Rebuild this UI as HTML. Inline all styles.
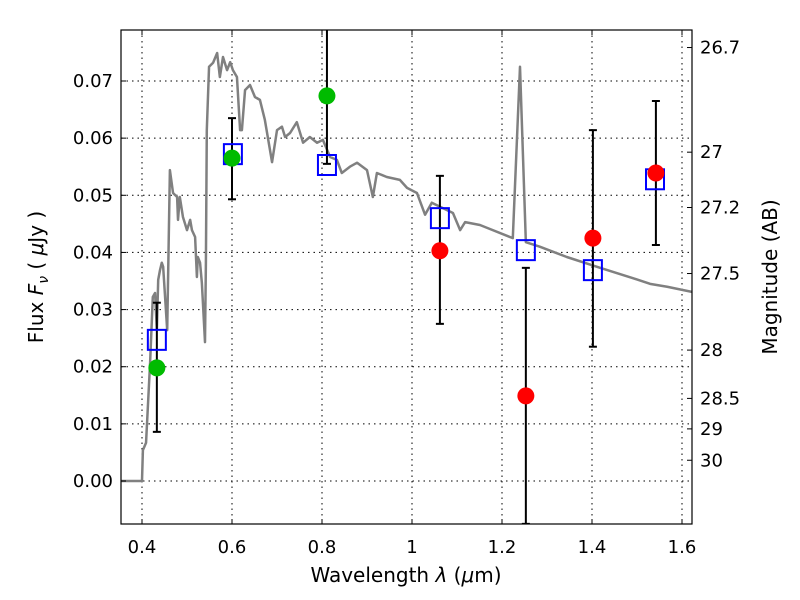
<!DOCTYPE html>
<html><head><meta charset="utf-8"><style>body{margin:0;background:#fff}svg{display:block}text{font-family:"DejaVu Sans","Liberation Sans",sans-serif;font-size:18px;fill:#000}</style></head>
<body>
<svg id="chart" width="800" height="600" viewBox="0 0 800 600" xmlns="http://www.w3.org/2000/svg">
<g id="grid"></g>
<g id="plot"></g>
<rect x="121" y="30" width="571" height="494" fill="none" stroke="#000" stroke-width="1.2"/>
<g id="axes"></g>
<text x="406" y="582" text-anchor="middle" style="font-size:20px">Wavelength  <tspan font-style="italic">λ</tspan> (<tspan font-style="italic">μ</tspan>m)</text>
<text transform="translate(43,277) rotate(-90)" text-anchor="middle" style="font-size:20px">Flux  <tspan font-style="italic">F</tspan><tspan font-style="italic" font-size="14" dy="5">ν</tspan><tspan dy="-5">  ( </tspan><tspan font-style="italic">μ</tspan>Jy )</text>
<text transform="translate(777,277) rotate(-90)" text-anchor="middle" style="font-size:20px">Magnitude (AB)</text>
</svg>
<script>
const sedWave=[0.351,0.400,0.402,0.409,0.418,0.424,0.429,0.433,0.436,0.440,0.444,0.447,0.456,0.462,0.469,0.478,0.480,0.484,0.491,0.500,0.507,0.511,0.518,0.522,0.524,0.529,0.533,0.540,0.542,0.544,0.549,0.558,0.567,0.573,0.580,0.589,0.596,0.602,0.611,0.618,0.622,0.629,0.640,0.651,0.662,0.673,0.689,0.700,0.711,0.718,0.729,0.744,0.758,0.773,0.789,0.802,0.818,0.833,0.844,0.862,0.878,0.900,0.913,0.922,0.944,0.973,0.989,1.011,1.029,1.044,1.091,1.107,1.118,1.151,1.167,1.224,1.240,1.253,1.284,1.344,1.418,1.491,1.529,1.567,1.622];
const sedFlux=[0,0,0.0054,0.0067,0.0207,0.0322,0.0329,0.0264,0.0352,0.0369,0.0382,0.0375,0.0264,0.0544,0.0504,0.0497,0.0457,0.0497,0.0462,0.0439,0.0457,0.0439,0.0427,0.0357,0.0392,0.0382,0.0347,0.0243,0.0382,0.0614,0.0725,0.0732,0.0749,0.0707,0.0742,0.0719,0.0733,0.0719,0.0707,0.0614,0.0614,0.0684,0.0693,0.0672,0.0667,0.0632,0.0558,0.0614,0.0620,0.0602,0.0609,0.0628,0.0592,0.0602,0.0592,0.0597,0.0567,0.0562,0.0539,0.0550,0.0557,0.0544,0.0497,0.0539,0.0532,0.0527,0.0513,0.0504,0.0466,0.0487,0.0469,0.0439,0.0453,0.0448,0.0443,0.0425,0.0725,0.0418,0.0410,0.0392,0.0373,0.0355,0.0345,0.0340,0.0331];
const modelWave=[0.433,0.602,0.811,1.062,1.253,1.402,1.540];
const modelFlux=[0.0247,0.0572,0.0553,0.0460,0.0404,0.0369,0.0528];
const obsWave=[0.433,0.600,0.811,1.062,1.253,1.402,1.542];
const obsFlux=[0.0198,0.0565,0.0674,0.0403,0.0149,0.0425,0.0539];
const obsLo=[0.0086,0.0493,0.0555,0.0275,-0.0075,0.0235,0.0413];
const obsHi=[0.0312,0.0635,0.0793,0.0534,0.0373,0.0614,0.0665];
const obsColor=['#00bb00','#00bb00','#00bb00','#ff0000','#ff0000','#ff0000','#ff0000'];
const xTicks=[0.4,0.6,0.8,1.0,1.2,1.4,1.6];
const xTickLabels=['0.4','0.6','0.8','1','1.2','1.4','1.6'];
const yTicks=[0,0.01,0.02,0.03,0.04,0.05,0.06,0.07];
const yTickLabels=['0.00','0.01','0.02','0.03','0.04','0.05','0.06','0.07'];
const magTicks=[26.7,27,27.2,27.5,28,28.5,29,30];
const magTickLabels=['26.7','27','27.2','27.5','28','28.5','29','30'];

const L=121,R=692,T=30,B=524;
const xs=v=>142+(v-0.4)*450;
const ys=f=>481-f*5714.3;
const NS='http://www.w3.org/2000/svg';
function mk(tag,parent,attrs){const e=document.createElementNS(NS,tag);for(const k in attrs)e.setAttribute(k,attrs[k]);parent.appendChild(e);return e;}
const grid=document.getElementById('grid'),plot=document.getElementById('plot'),axes=document.getElementById('axes');
mk('clipPath',document.getElementById('chart'),{id:'clip'}).appendChild(Object.assign(document.createElementNS(NS,'rect'),{}));
const cr=document.querySelector('#clip rect');cr.setAttribute('x',L);cr.setAttribute('y',T);cr.setAttribute('width',R-L);cr.setAttribute('height',B-T);
plot.setAttribute('clip-path','url(#clip)');
xTicks.forEach((v,i)=>{
  const x=xs(v);
  const g=mk('line',grid,{x1:x,x2:x,y1:T,y2:B,stroke:'#000','stroke-dasharray':'1.5,4','stroke-width':1});
  
  const t1=mk('line',axes,{x1:x,x2:x,y1:B,y2:B-5,stroke:'#000'});
  
  const t2=mk('line',axes,{x1:x,x2:x,y1:T,y2:T+5,stroke:'#000'});
  
  const tx=mk('text',axes,{x:x,y:553,'text-anchor':'middle'});tx.textContent=xTickLabels[i];
  
});
yTicks.forEach((v,i)=>{
  const y=ys(v);
  const g=mk('line',grid,{x1:L,x2:R,y1:y,y2:y,stroke:'#000','stroke-dasharray':'1.5,4','stroke-width':1});
  
  const t1=mk('line',axes,{x1:L,x2:L+5,y1:y,y2:y,stroke:'#000'});
  
  const tx=mk('text',axes,{x:113,y:y+6,'text-anchor':'end'});tx.textContent=yTickLabels[i];
  
});
magTicks.forEach((m,i)=>{
  const y=ys(Math.pow(10,(23.9-m)/2.5));
  const t1=mk('line',axes,{x1:R,x2:R-5,y1:y,y2:y,stroke:'#000'});
  
  const tx=mk('text',axes,{x:700,y:y+6,'text-anchor':'start'});tx.textContent=magTickLabels[i];
  
});
const sed=mk('polyline',plot,{points:sedWave.map((w,i)=>xs(w)+','+ys(sedFlux[i])).join(' '),fill:'none',stroke:'#808080','stroke-width':2.5,'stroke-linejoin':'round'});

obsWave.forEach((w,i)=>{
  const x=xs(w),y1=ys(obsHi[i]),y2=ys(obsLo[i]);
  const e=mk('line',plot,{x1:x,x2:x,y1:y1,y2:y2,stroke:'#000','stroke-width':2});
  
  [y1,y2].forEach(yy=>{const c=mk('line',plot,{x1:x-4,x2:x+4,y1:yy,y2:yy,stroke:'#000','stroke-width':2});
    });
});
modelWave.forEach((w,i)=>{
  const s=mk('rect',plot,{x:xs(w)-9,y:ys(modelFlux[i])-10,width:18,height:20,fill:'none',stroke:'#0000ff','stroke-width':2});
  
});
obsWave.forEach((w,i)=>{
  const c=mk('circle',plot,{cx:xs(w),cy:ys(obsFlux[i]),r:8.5,fill:obsColor[i]});
  
});
</script>
</body></html>
